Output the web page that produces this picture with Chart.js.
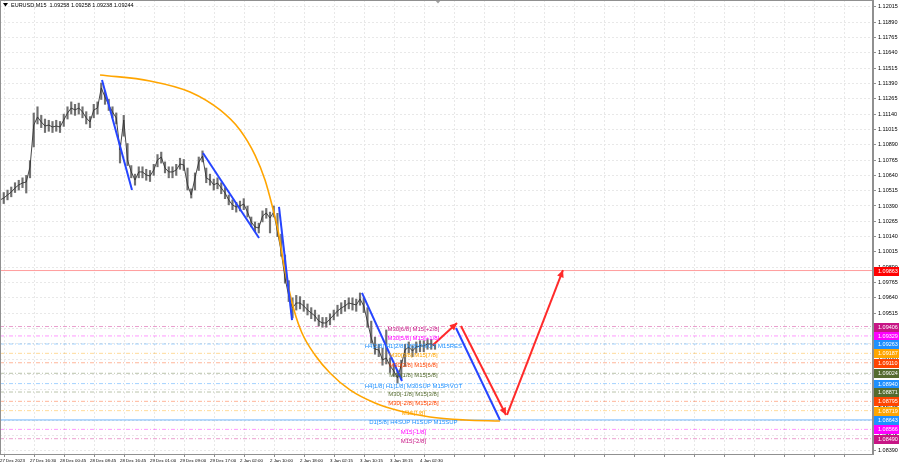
<!DOCTYPE html>
<html>
<head>
<meta charset="utf-8">
<script src="https://cdn.jsdelivr.net/npm/chart.js@4/dist/chart.umd.min.js"></script>
<style>
  html, body { margin: 0; padding: 0; background: #fff; }
</style>
</head>
<body>
<canvas id="mt4Chart" width="900" height="468"></canvas>
<script>
// EURUSD M15 snapshot with Murrey-style levels

const symbolTitle = 'EURUSD,M15  1.09258 1.09258 1.09238 1.09244';

// one sample = 4 M15 bars
const barStep = 4;

const timeLabels = ['27 Dec 2023', '27 Dec 16:30', '28 Dec 00:45', '28 Dec 08:45', '28 Dec 16:45',
    '29 Dec 01:00', '29 Dec 09:00', '29 Dec 17:00', '2 Jan 02:00', '2 Jan 10:00', '2 Jan 18:00',
    '3 Jan 02:15', '3 Jan 10:15', '3 Jan 18:15', '4 Jan 02:30'];

// grid lines (in bars)
const gridBars = [21.3, 53.3, 85.3, 117.3, 149.3, 181.3, 213.3, 245.3, 277.3, 309.3, 341.3, 373.3,
    405.3, 437.3, 469.3, 501.3, 533.3, 565.3, 597.3, 629.3, 661.3, 693.3, 725.3, 757.3, 789.3,
    821.3, 853.3, 885.3, 917.3];

const priceTicks = [1.08390, 1.08515, 1.08640, 1.08765, 1.08890, 1.09015, 1.09140, 1.09265, 1.09390,
    1.09515, 1.09640, 1.09765, 1.09890, 1.10015, 1.10140, 1.10265, 1.10390, 1.10515, 1.10640,
    1.10765, 1.10890, 1.11015, 1.11140, 1.11265, 1.11390, 1.11515, 1.11640, 1.11765, 1.11890, 1.12015];

const closes = [
    1.10439, 1.10455, 1.10480, 1.10504, 1.10537, 1.10562, 1.10578, 1.10586, 1.10708, 1.11051,
    1.11117, 1.11076, 1.11043, 1.11051, 1.11035, 1.11043, 1.11035, 1.11092, 1.11149, 1.11190,
    1.11174, 1.11190, 1.11158, 1.11109, 1.11076, 1.11174, 1.11190, 1.11354, 1.11280, 1.11215,
    1.11158, 1.11109, 1.10847, 1.11092, 1.10766, 1.10668, 1.10602, 1.10668, 1.10668, 1.10643,
    1.10635, 1.10684, 1.10766, 1.10790, 1.10700, 1.10668, 1.10668, 1.10684, 1.10733, 1.10725,
    1.10562, 1.10480, 1.10619, 1.10749, 1.10798, 1.10619, 1.10602, 1.10562, 1.10578, 1.10537,
    1.10496, 1.10439, 1.10398, 1.10382, 1.10390, 1.10406, 1.10341, 1.10259, 1.10219, 1.10210,
    1.10308, 1.10333, 1.10292, 1.10341, 1.10178, 1.10014, 1.09802, 1.09655, 1.09557, 1.09598,
    1.09598, 1.09574, 1.09541, 1.09516, 1.09492, 1.09451, 1.09435, 1.09435, 1.09467, 1.09500,
    1.09533, 1.09557, 1.09574, 1.09598, 1.09590, 1.09582, 1.09631, 1.09574, 1.09443, 1.09312,
    1.09222, 1.09214, 1.09133, 1.09149, 1.09084, 1.09043, 1.08986, 1.09092, 1.09214, 1.09239,
    1.09206, 1.09239, 1.09247, 1.09247, 1.09263, 1.09263, 1.09244];

const highs = [
    1.10490, 1.10500, 1.10520, 1.10545, 1.10580, 1.10600, 1.10620, 1.10640, 1.10760, 1.11149,
    1.11200, 1.11130, 1.11100, 1.11090, 1.11080, 1.11090, 1.11080, 1.11140, 1.11200, 1.11240,
    1.11220, 1.11230, 1.11200, 1.11160, 1.11120, 1.11220, 1.11240, 1.11394, 1.11330, 1.11260,
    1.11200, 1.11150, 1.10904, 1.11130, 1.10900, 1.10720, 1.10650, 1.10710, 1.10710, 1.10690,
    1.10680, 1.10730, 1.10810, 1.10830, 1.10750, 1.10710, 1.10710, 1.10730, 1.10780, 1.10770,
    1.10700, 1.10530, 1.10660, 1.10790, 1.10840, 1.10700, 1.10650, 1.10610, 1.10620, 1.10580,
    1.10540, 1.10480, 1.10440, 1.10420, 1.10430, 1.10450, 1.10390, 1.10300, 1.10260, 1.10250,
    1.10350, 1.10370, 1.10340, 1.10390, 1.10330, 1.10160, 1.09990, 1.09780, 1.09640, 1.09660,
    1.09650, 1.09620, 1.09590, 1.09560, 1.09540, 1.09500, 1.09480, 1.09480, 1.09510, 1.09540,
    1.09580, 1.09600, 1.09620, 1.09640, 1.09640, 1.09630, 1.09680, 1.09640, 1.09560, 1.09450,
    1.09320, 1.09260, 1.09230, 1.09378, 1.09150, 1.09100, 1.09050, 1.09130, 1.09260, 1.09280,
    1.09250, 1.09280, 1.09290, 1.09290, 1.09300, 1.09300, 1.09258];

const lows = [
    1.10400, 1.10410, 1.10440, 1.10465, 1.10500, 1.10520, 1.10540, 1.10496, 1.10620, 1.10872,
    1.11060, 1.11030, 1.10990, 1.11000, 1.10990, 1.11000, 1.10990, 1.11040, 1.11100, 1.11140,
    1.11130, 1.11140, 1.11110, 1.11060, 1.11030, 1.11110, 1.11140, 1.11260, 1.11220, 1.11170,
    1.11110, 1.11060, 1.10741, 1.10960, 1.10720, 1.10620, 1.10560, 1.10620, 1.10620, 1.10600,
    1.10590, 1.10640, 1.10710, 1.10740, 1.10660, 1.10620, 1.10620, 1.10640, 1.10690, 1.10680,
    1.10520, 1.10455, 1.10520, 1.10680, 1.10750, 1.10580, 1.10560, 1.10520, 1.10530, 1.10490,
    1.10450, 1.10400, 1.10360, 1.10340, 1.10350, 1.10360, 1.10300, 1.10220, 1.10180, 1.10170,
    1.10260, 1.10290, 1.10170, 1.10300, 1.10140, 1.09980, 1.09760, 1.09610, 1.09476, 1.09540,
    1.09550, 1.09530, 1.09500, 1.09470, 1.09450, 1.09410, 1.09400, 1.09400, 1.09420, 1.09460,
    1.09490, 1.09510, 1.09530, 1.09550, 1.09540, 1.09530, 1.09580, 1.09520, 1.09400, 1.09270,
    1.09180, 1.09160, 1.09090, 1.09100, 1.09030, 1.09000, 1.08945, 1.08980, 1.09080, 1.09190,
    1.09160, 1.09190, 1.09200, 1.09200, 1.09220, 1.09220, 1.09220];

// horizontal levels
const levelPrices = [1.09406, 1.09329, 1.09263, 1.09187, 1.09110, 1.09024, 1.08940, 1.08871,
    1.08795, 1.08719, 1.08643, 1.08566, 1.08490];
const levelColors = ['#c71585', '#ff00ff', '#1e90ff', '#ffa500', '#ff4500', '#556b2f', '#1e90ff',
    '#556b2f', '#ff4500', '#ffa500', '#1e90ff', '#ff00ff', '#c71585'];
const levelTexts = ['M30[6/8] M15[+2/8]', 'M30[5/8] M15[+1/8]', 'H4[2/8] H1[2/8] M30PIVOT M15RES',
    'M30[3/8] M15[7/8]', 'M30[2/8] M15[6/8]', 'M30[1/8] M15[5/8]', 'H4[1/8] H1[1/8] M30SUP M15PIVOT',
    'M30[-1/8] M15[3/8]', 'M30[-2/8] M15[2/8]', 'M15[1/8]', 'D1[5/8] H4SUP H1SUP M15SUP',
    'M15[-1/8]', 'M15[-2/8]'];
const levelTextBar = 441;
const redLevel = 1.09863;

// drawn objects: [bar1, price1, bar2, price2]
const blueTrends = [
    [108.8, 1.11419, 140.8, 1.10521],
    [216.5, 1.10823, 276.3, 1.10129],
    [297.6, 1.10382, 311.5, 1.09459],
    [386.1, 1.09680, 428.8, 1.08961],
    [486.4, 1.09394, 533.3, 1.08643]
];
const redTrends = [
    [461.9, 1.09255, 487.5, 1.09435],
    [491.7, 1.09410, 539.7, 1.08684],
    [540.8, 1.08684, 600.5, 1.09867]
];
const arcBars = [106.7, 160, 202.7, 234.7, 256, 272, 282.7, 290.1, 296.5, 301.9, 307.2, 313.6,
    322.1, 336, 352, 373.3, 400, 426.7, 458.7, 496, 533.3];
const arcPrices = [1.11460, 1.11411, 1.11321, 1.11174, 1.11011, 1.10806, 1.10602, 1.10398, 1.10194,
    1.09949, 1.09745, 1.09541, 1.09353, 1.09173, 1.09026, 1.08888, 1.08781, 1.08716, 1.08667,
    1.08643, 1.08634];

const X_MAX = 931.2;
const FONT = "'Liberation Sans', Arial, sans-serif";

const datasets = [];

// levels
levelPrices.forEach((p, i) => {
    datasets.push({
        type: 'line',
        data: [{ x: 0, y: p }, { x: X_MAX, y: p }],
        borderColor: levelColors[i] + (i === 10 ? 'a0' : '66'),
        borderWidth: 1,
        borderDash: i === 10 ? [] : [4, 2, 1, 2],
        pointRadius: 0,
        order: 8
    });
});
datasets.push({
    type: 'line',
    data: [{ x: 0, y: redLevel }, { x: X_MAX, y: redLevel }],
    borderColor: 'rgba(255, 60, 60, 0.5)',
    borderWidth: 1,
    pointRadius: 0,
    order: 8
});

// price bars
datasets.push({
    type: 'bar',
    data: closes.map((c, i) => ({ x: i * barStep, y: [lows[i], highs[i]] })),
    backgroundColor: '#707070',
    barThickness: 1.5,
    grouped: false,
    order: 6
});
datasets.push({
    type: 'line',
    data: closes.map((c, i) => ({ x: i * barStep, y: c })),
    borderColor: '#333333',
    borderWidth: 0.9,
    pointRadius: 0,
    order: 5
});

// orange arc
datasets.push({
    type: 'line',
    data: arcBars.map((b, i) => ({ x: b, y: arcPrices[i] })),
    borderColor: '#ffa500',
    borderWidth: 1.6,
    pointRadius: 0,
    cubicInterpolationMode: 'monotone',
    order: 3
});

blueTrends.forEach(t => {
    datasets.push({
        type: 'line',
        data: [{ x: t[0], y: t[1] }, { x: t[2], y: t[3] }],
        borderColor: '#2645ff',
        borderWidth: 2,
        pointRadius: 0,
        order: 2
    });
});
redTrends.forEach(t => {
    datasets.push({
        type: 'line',
        data: [{ x: t[0], y: t[1] }, { x: t[2], y: t[3] }],
        borderColor: '#ff2a2a',
        borderWidth: 2,
        pointRadius: 0,
        order: 1
    });
});

const mt4Overlay = {
    id: 'mt4Overlay',
    afterDatasetsDraw(chart) {
        const ctx = chart.ctx;
        const xs = chart.scales.x;
        const ys = chart.scales.y;
        ctx.save();
        // level captions
        ctx.font = '6px ' + FONT;
        ctx.textAlign = 'center';
        ctx.textBaseline = 'middle';
        levelPrices.forEach((p, i) => {
            ctx.fillStyle = levelColors[i];
            ctx.fillText(levelTexts[i], xs.getPixelForValue(levelTextBar), ys.getPixelForValue(p) + 2.5);
        });
        // arrow heads on red lines
        ctx.fillStyle = '#ff2a2a';
        redTrends.forEach(t => {
            const x1 = xs.getPixelForValue(t[0]), y1 = ys.getPixelForValue(t[1]);
            const x2 = xs.getPixelForValue(t[2]), y2 = ys.getPixelForValue(t[3]);
            const a = Math.atan2(y2 - y1, x2 - x1);
            ctx.beginPath();
            ctx.moveTo(x2, y2);
            ctx.lineTo(x2 - 8 * Math.cos(a - 0.45), y2 - 8 * Math.sin(a - 0.45));
            ctx.lineTo(x2 - 8 * Math.cos(a + 0.45), y2 - 8 * Math.sin(a + 0.45));
            ctx.closePath();
            ctx.fill();
        });
        ctx.restore();
    },
    afterDraw(chart) {
        const ctx = chart.ctx;
        const ys = chart.scales.y;
        const area = chart.chartArea;
        ctx.save();
        // price boxes on the axis
        ctx.font = '5.5px ' + FONT;
        ctx.textAlign = 'left';
        ctx.textBaseline = 'middle';
        const boxes = levelPrices.map((p, i) => [p, levelColors[i]]).concat([[redLevel, '#ff0000']]);
        boxes.forEach(([p, c]) => {
            const y = Math.round(ys.getPixelForValue(p));
            ctx.fillStyle = c;
            ctx.fillRect(area.right + 1, y - 4, 25, 9);
            ctx.fillStyle = '#fff';
            ctx.fillText(p.toFixed(5), area.right + 5, y + 0.5);
        });
        // title
        ctx.fillStyle = '#000';
        ctx.beginPath();
        ctx.moveTo(3, 3); ctx.lineTo(8, 3); ctx.lineTo(5.5, 6.5);
        ctx.closePath();
        ctx.fill();
        ctx.font = '5.5px ' + FONT;
        ctx.fillText(symbolTitle, 11, 5);
        // shift marker
        ctx.fillStyle = '#a0a0a0';
        ctx.beginPath();
        ctx.moveTo(435, 0); ctx.lineTo(441, 0); ctx.lineTo(438, 3.5);
        ctx.closePath();
        ctx.fill();
        // frame
        ctx.strokeStyle = '#909090';
        ctx.lineWidth = 1;
        ctx.strokeRect(area.left + 0.5, area.top + 0.5, area.right - area.left - 1, area.bottom - area.top);
        ctx.restore();
    }
};

new Chart(document.getElementById('mt4Chart'), {
    type: 'line',
    data: { datasets },
    options: {
        responsive: false,
        animation: false,
        devicePixelRatio: 1,
        layout: { padding: 0 },
        plugins: {
            legend: { display: false },
            tooltip: { enabled: false }
        },
        scales: {
            x: {
                type: 'linear',
                min: 0,
                max: X_MAX,
                offset: false,
                afterBuildTicks: scale => {
                    scale.ticks = gridBars.map(v => ({ value: v }));
                },
                afterFit: scale => {
                    scale.height = 14;
                    scale.paddingLeft = 0;
                    scale.paddingRight = 0;
                },
                grid: {
                    color: '#e8e8e8',
                    tickColor: '#909090',
                    tickLength: 3
                },
                border: { color: '#909090', dash: [2, 2] },
                ticks: {
                    autoSkip: false,
                    maxRotation: 0,
                    minRotation: 0,
                    align: 'start',
                    labelOffset: -20,
                    padding: 1,
                    color: '#000',
                    font: { family: FONT, size: 4.4 },
                    callback: (v, i) => timeLabels[i] || ''
                }
            },
            y: {
                position: 'right',
                min: 1.08365,
                max: 1.12072,
                afterBuildTicks: scale => {
                    scale.ticks = priceTicks.map(v => ({ value: v }));
                },
                afterFit: scale => {
                    scale.width = 27;
                    scale.paddingTop = 0;
                    scale.paddingBottom = 0;
                },
                grid: {
                    color: '#e8e8e8',
                    tickColor: '#909090',
                    tickLength: 3
                },
                border: { color: '#909090', dash: [2, 2] },
                ticks: {
                    padding: 2,
                    color: '#000',
                    font: { family: FONT, size: 5.5 },
                    callback: v => v.toFixed(5)
                }
            }
        }
    },
    plugins: [mt4Overlay]
});
</script>
</body>
</html>
